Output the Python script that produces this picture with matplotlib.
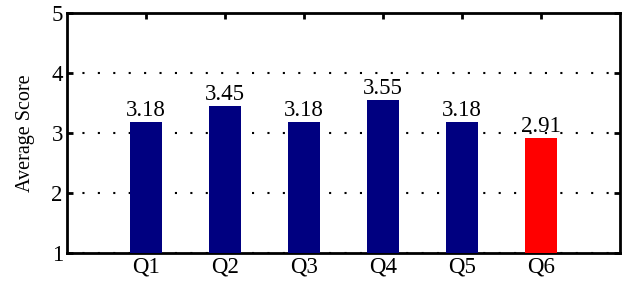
import matplotlib
matplotlib.use("Agg")
import matplotlib.pyplot as plt

categories = ["Q1", "Q2", "Q3", "Q4", "Q5", "Q6"]
scores = [3.18, 3.45, 3.18, 3.55, 3.18, 2.91]
labels = ["3.18", "3.45", "3.18", "3.55", "3.18", "2.91"]
colors = ["#000080"] * 5 + ["#ff0000"]
yticks = [1, 2, 3, 4, 5]

plt.rcParams["font.family"] = ["Liberation Serif", "DejaVu Serif"]

fig = plt.figure(figsize=(6.25, 2.82), dpi=100)
ax = fig.add_axes([0.1072, 0.104, 0.8848, 0.85])

x = list(range(1, len(categories) + 1))
ax.bar(x, [s - 1 for s in scores], bottom=1, width=0.4, color=colors, zorder=3)
for xi, s, lab in zip(x, scores, labels):
    ax.text(xi, s + 0.02, lab, ha="center", va="bottom", fontsize=16.5, zorder=4)

ax.set_xlim(0, 7)
ax.set_ylim(1, 5)
ax.set_xticks(x)
ax.set_xticklabels(categories, fontsize=16.5)
ax.set_yticks(yticks)
ax.set_yticklabels([str(t) for t in yticks], fontsize=16.5)
ax.set_ylabel("Average Score", fontsize=14.5, labelpad=12)
ax.yaxis.grid(True, linestyle=(0, (1, 6.4)), color="black", linewidth=1.5)
ax.set_axisbelow(True)
ax.tick_params(direction="in", length=4, width=2, top=True, right=True, pad=3)
for sp in ax.spines.values():
    sp.set_linewidth(2)

fig.savefig("out.png", dpi=100)
